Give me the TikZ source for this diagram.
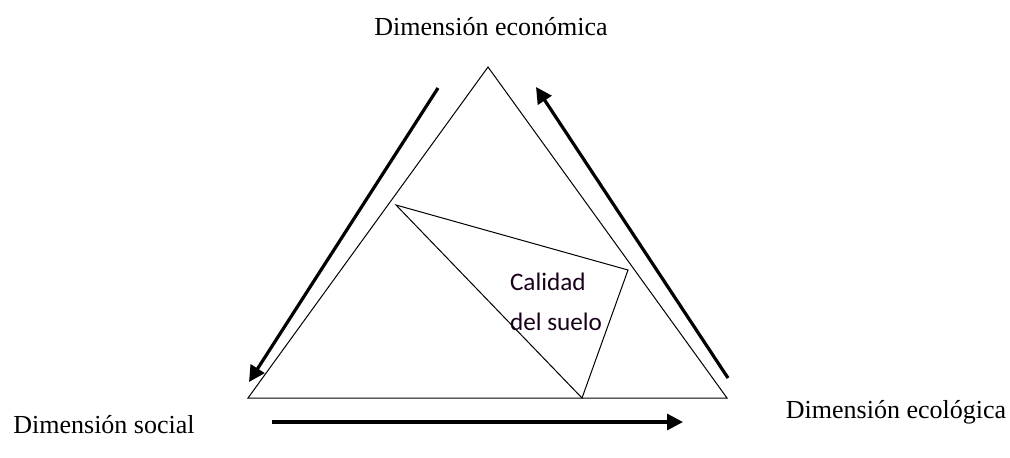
\documentclass[tikz,border=0pt]{standalone}
\usepackage{fontspec}
\setmainfont{Liberation Serif}
\newfontfamily\calfont{Carlito}
\usetikzlibrary{arrows.meta,positioning}

\begin{document}
\begin{tikzpicture}[x=0.5pt,y=-0.5pt,
  dim/.style={font=\fontsize{13}{15}\selectfont},
  flow/.style={line width=1.6pt,-{Triangle[length=8pt,width=8pt]}}]
\useasboundingbox (0,0) rectangle (1010,457);
% outer triangle
\coordinate (E) at (488,67);
\coordinate (S) at (248,398);
\coordinate (L) at (727,398);
\draw[line width=0.5pt] (E) -- (S) -- (L) -- cycle;
% inner triangle
\coordinate (P) at (396,205);
\coordinate (Q) at (628,270);
\coordinate (R) at (582,398);
\draw[line width=0.5pt] (P) -- (Q) -- (R) -- cycle;
\node[font=\calfont\fontsize{12.6}{20}\selectfont,align=left,text=black!80!violet] (calidad) at (556,302) {Calidad\\del suelo};
% labels
\node[dim] (eco) at (491,27) {Dimensión económica};
\node[dim] (soc) at (104,425) {Dimensión social};
\node[dim] (ecol) at (896,412) {Dimensión ecológica};
% arrows
\coordinate (a1) at (438,88);
\coordinate (b1) at (249,382);
\coordinate (a2) at (728,378);
\coordinate (b2) at (536,87);
\coordinate (a3) at (272,422);
\coordinate (b3) at (683,422);
\draw[flow] (a1) -- (b1);
\draw[flow] (a2) -- (b2);
\draw[flow] (a3) -- (b3);
\end{tikzpicture}
\end{document}
